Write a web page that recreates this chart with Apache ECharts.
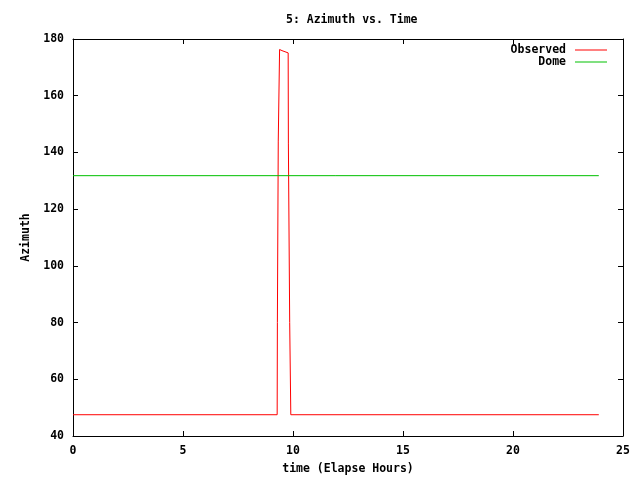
<!DOCTYPE html>
<html>
<head>
<meta charset="utf-8">
<script src="https://cdn.jsdelivr.net/npm/echarts@6/dist/echarts.min.js"></script>
<style>html,body{margin:0;padding:0;background:#fff}#c{width:640px;height:480px}</style>
</head>
<body>
<div id="c"></div>
<script>
var chartTitle = '5: Azimuth vs. Time';
var xName = 'time (Elapse Hours)';
var yName = 'Azimuth';
var seriesNames = ['Observed', 'Dome'];
var obsTime = [0, 9.28, 9.29, 9.32, 9.33, 9.38, 9.39, 9.50, 9.78, 9.79, 9.84, 9.85, 9.89, 9.90, 23.9];
var obsAz   = [47.5, 47.5, 80, 80, 144, 144, 176.3, 175.9, 175.1, 143, 143, 80, 80, 47.5, 47.5];
var domeTime = [0, 23.9];
var domeAz   = [131.8, 131.8];

var FONT = 'DejaVu Sans Mono';
function pairs(xs, ys) { return xs.map(function (x, i) { return [x, ys[i]]; }); }

var chart = echarts.init(document.getElementById('c'), null, { renderer: 'canvas' });
var axisCommon = {
  axisLine: { show: true, onZero: false, lineStyle: { color: '#000', width: 1 } },
  axisTick: { show: true, inside: true, length: 5, lineStyle: { color: '#000' } },
  splitLine: { show: false }
};
chart.setOption({
  animation: false,
  backgroundColor: '#fff',
  title: {
    text: chartTitle, left: 281, top: 9,
    textStyle: { fontFamily: FONT, fontSize: 11.5, fontWeight: 'bold', color: '#000' }
  },
  legend: {
    data: seriesNames, orient: 'vertical', align: 'right',
    right: 28, top: 39, itemWidth: 32, itemHeight: 1, itemGap: 0,
    icon: 'rect',
    textStyle: { fontFamily: FONT, fontSize: 11.5, fontWeight: 'bold', color: '#000', padding: [0, 4, 0, 0] }
  },
  grid: { left: 73, right: 17, top: 39, bottom: 42 },
  xAxis: [
    Object.assign({
      type: 'value', min: 0, max: 25, interval: 5, position: 'bottom',
      name: xName, nameLocation: 'middle', nameGap: 27,
      nameTextStyle: { fontFamily: FONT, fontSize: 11.5, fontWeight: 'bold', color: '#000' },
      axisLabel: { fontFamily: FONT, fontSize: 11.5, fontWeight: 'bold', color: '#000', margin: 9 }
    }, axisCommon),
    Object.assign({
      type: 'value', min: 0, max: 25, interval: 5, position: 'top',
      axisLabel: { show: false }
    }, axisCommon)
  ],
  yAxis: [
    Object.assign({
      type: 'value', min: 40, max: 180, interval: 20, position: 'left',
      name: yName, nameLocation: 'middle', nameGap: 41, nameRotate: 90,
      nameTextStyle: { fontFamily: FONT, fontSize: 11.5, fontWeight: 'bold', color: '#000' },
      axisLabel: { fontFamily: FONT, fontSize: 11.5, fontWeight: 'bold', color: '#000', margin: 9 }
    }, axisCommon),
    Object.assign({
      type: 'value', min: 40, max: 180, interval: 20, position: 'right',
      axisLabel: { show: false }
    }, axisCommon)
  ],
  series: [
    {
      name: seriesNames[0], type: 'line', showSymbol: false, symbol: 'none',
      data: pairs(obsTime, obsAz), lineStyle: { color: '#ff0000', width: 1 },
      itemStyle: { color: '#ff0000' }
    },
    {
      name: seriesNames[1], type: 'line', showSymbol: false, symbol: 'none',
      data: pairs(domeTime, domeAz), lineStyle: { color: '#00c000', width: 1 },
      itemStyle: { color: '#00c000' }
    }
  ]
});
</script>
</body>
</html>
